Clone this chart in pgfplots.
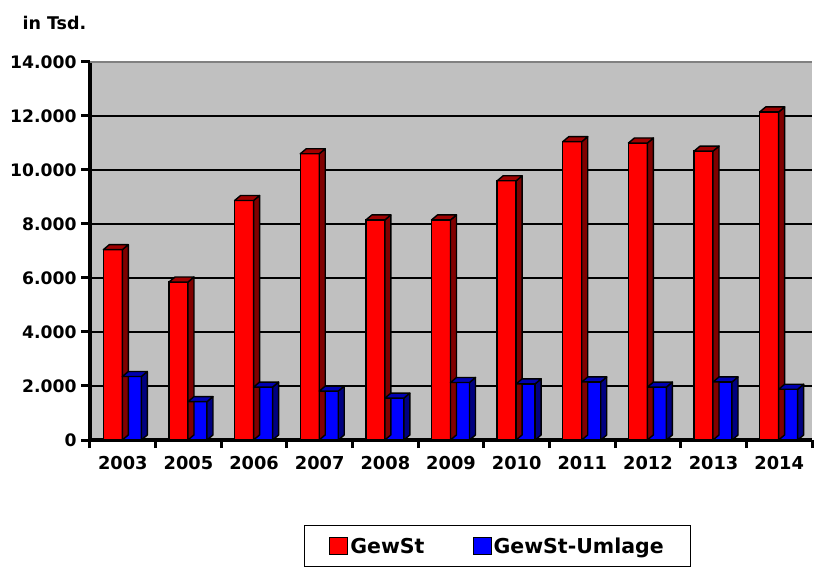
\documentclass[border=0pt]{standalone}
\usepackage{fontspec}
\setmainfont{DejaVu Sans}
\usepackage{pgfplots}
\pgfplotsset{compat=1.18}
\definecolor{wallgray}{HTML}{C0C0C0}
\definecolor{sidered}{HTML}{800000}
\definecolor{topred}{HTML}{A00000}
\definecolor{sideblue}{HTML}{000080}
\definecolor{topblue}{HTML}{0000B0}
\pgfplotsset{
  redfaces/.style={
    scatter, only marks, forget plot, mark=*, mark size=0pt,
    mark options={draw=none,fill=none},
    visualization depends on={rawy\as\rawy},
    scatter/@pre marker code/.code={%
      \pgfmathsetmacro\hh{\rawy*0.027}%
      \filldraw[fill=sidered, draw=black, line width=1.4pt, line join=round]
        (-0.5pt,0pt) -- ++(6pt,5pt) -- ++(0pt,-\hh pt) -- ++(-6pt,-5pt) -- cycle;
      \filldraw[fill=topred, draw=black, line width=1.4pt, line join=round]
        (-19.5pt,0pt) -- ++(6pt,5pt) -- ++(19pt,0pt) -- ++(-6pt,-5pt) -- cycle;
    },
    scatter/@post marker code/.code={},
  },
  bluefaces/.style={
    scatter, only marks, forget plot, mark=*, mark size=0pt,
    mark options={draw=none,fill=none},
    visualization depends on={rawy\as\rawy},
    scatter/@pre marker code/.code={%
      \pgfmathsetmacro\hh{\rawy*0.027}%
      \filldraw[fill=sideblue, draw=black, line width=1.4pt, line join=round]
        (18.5pt,0pt) -- ++(6pt,5pt) -- ++(0pt,-\hh pt) -- ++(-6pt,-5pt) -- cycle;
      \filldraw[fill=topblue, draw=black, line width=1.4pt, line join=round]
        (-0.5pt,0pt) -- ++(6pt,5pt) -- ++(19pt,0pt) -- ++(-6pt,-5pt) -- cycle;
    },
    scatter/@post marker code/.code={},
  },
}
\pgfplotstableread{
x gewst umlage
0 7050 2350
1 5850 1420
2 8870 1960
3 10600 1810
4 8150 1550
5 8150 2130
6 9600 2080
7 11050 2150
8 11000 1960
9 10700 2150
10 12150 1880
}\datatable
\begin{document}
\begin{tikzpicture}
\path[use as bounding box] (0,0) rectangle (815pt,568pt);
\begin{axis}[
  at={(90pt,128pt)}, anchor=south west,
  scale only axis, width=722pt, height=378pt,
  xmin=-0.5, xmax=10.5, ymin=0, ymax=14000,
  axis lines*=left,
  axis line style={line width=3.5pt, black, -},
  axis background/.style={fill=wallgray},
  xtick={0,...,10},
  xticklabels={2003,2005,2006,2007,2008,2009,2010,2011,2012,2013,2014},
  major x tick style={draw=none},
  minor xtick={-0.5,0.5,...,10.5},
  minor x tick style={line width=3pt, black},
  minor tick length=8pt,
  ytick={0,2000,...,12000},
  extra y ticks={14000},
  extra y tick style={grid=none},
  scaled y ticks=false,
  major y tick style={line width=3pt, black},
  major tick length=9pt,
  tick align=outside,
  ymajorgrids,
  grid style={black, line width=1.3pt},
  /pgf/number format/.cd, 1000 sep={.}, assume math mode=true,
  /pgfplots/.cd,
  yticklabel style={font=\fontsize{17.2}{20}\selectfont\bfseries, xshift=-1pt},
  xticklabel style={font=\fontsize{17.8}{20}\selectfont\bfseries, yshift=-4pt},
  ylabel={in Tsd.},
  every axis y label/.style={at={(axis description cs:-0.0983,1.0865)}, anchor=base west, font=\fontsize{17.5}{20}\selectfont\bfseries},
  legend style={at={(axis description cs:0.5644,-0.2249)}, anchor=north,
    draw=black, line width=1.2pt, fill=white,
    font=\fontsize{20.5}{24}\selectfont\bfseries,
    /tikz/every even column/.append style={column sep=46pt},
    inner xsep=24.5pt, inner ysep=10pt},
  legend columns=2,
  after end axis/.code={\draw[gray, line width=1.5pt] (rel axis cs:0,1) -- (rel axis cs:1,1);},
]
\addplot[redfaces] table[x=x, y=gewst] {\datatable};
\addplot[ybar, bar width=19pt, bar shift=-10pt, fill=red, draw=black, line width=1.4pt,
  legend image code/.code={\draw[fill=red, draw=black, line width=1pt] (0pt,-8pt) rectangle (18pt,9pt);}]
  table[x=x, y=gewst] {\datatable};
\addlegendentry{GewSt}
\addplot[bluefaces] table[x=x, y=umlage] {\datatable};
\addplot[ybar, bar width=19pt, bar shift=9pt, fill=blue, draw=black, line width=1.4pt,
  legend image code/.code={\draw[fill=blue, draw=black, line width=1pt] (0pt,-8pt) rectangle (18pt,9pt);}]
  table[x=x, y=umlage] {\datatable};
\addlegendentry{GewSt-Umlage}
\end{axis}
\end{tikzpicture}
\end{document}
